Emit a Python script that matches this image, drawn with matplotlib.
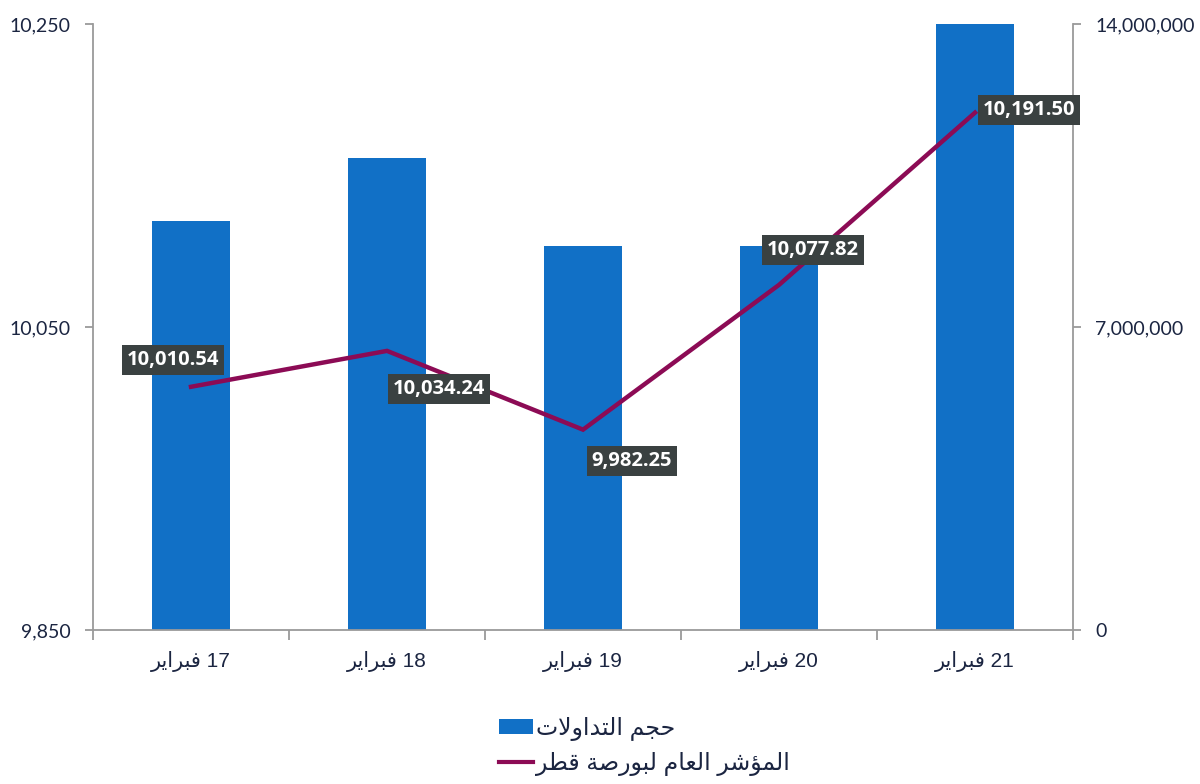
import matplotlib
matplotlib.use("Agg")
import matplotlib.pyplot as plt
from matplotlib.patches import Patch
from matplotlib.lines import Line2D
from matplotlib.ticker import FuncFormatter, FixedLocator

# ---------------- data ----------------
categories = ["17 فبراير", "18 فبراير", "19 فبراير", "20 فبراير", "21 فبراير"]
volume = [9450000, 10900000, 8870000, 8870000, 14000000]
index_values = [10010.54, 10034.24, 9982.25, 10077.82, 10191.50]
value_labels = ["10,010.54", "10,034.24", "9,982.25", "10,077.82", "10,191.50"]
legend_labels = ["حجم التداولات", "المؤشر العام لبورصة قطر"]
left_ticks = [9850, 10050, 10250]
right_ticks = [0, 7000000, 14000000]

# ---------------- minimal Arabic shaping ----------------
FORMS = {
    '\u0627': ('\uFE8D', '\uFE8E', None, None),
    '\u0628': ('\uFE8F', '\uFE90', '\uFE91', '\uFE92'),
    '\u0629': ('\uFE93', '\uFE94', None, None),
    '\u062A': ('\uFE95', '\uFE96', '\uFE97', '\uFE98'),
    '\u062C': ('\uFE9D', '\uFE9E', '\uFE9F', '\uFEA0'),
    '\u062D': ('\uFEA1', '\uFEA2', '\uFEA3', '\uFEA4'),
    '\u062F': ('\uFEA9', '\uFEAA', None, None),
    '\u0631': ('\uFEAD', '\uFEAE', None, None),
    '\u0634': ('\uFEB5', '\uFEB6', '\uFEB7', '\uFEB8'),
    '\u0635': ('\uFEB9', '\uFEBA', '\uFEBB', '\uFEBC'),
    '\u0637': ('\uFEC1', '\uFEC2', '\uFEC3', '\uFEC4'),
    '\u0639': ('\uFEC9', '\uFECA', '\uFECB', '\uFECC'),
    '\u0641': ('\uFED1', '\uFED2', '\uFED3', '\uFED4'),
    '\u0642': ('\uFED5', '\uFED6', '\uFED7', '\uFED8'),
    '\u0644': ('\uFEDD', '\uFEDE', '\uFEDF', '\uFEE0'),
    '\u0645': ('\uFEE1', '\uFEE2', '\uFEE3', '\uFEE4'),
    '\u0648': ('\uFEED', '\uFEEE', None, None),
    '\u064A': ('\uFEF1', '\uFEF2', '\uFEF3', '\uFEF4'),
    '\u0624': ('\uFE85', '\uFE86', None, None),
}


def shape_word(word):
    chars = list(word)
    n = len(chars)
    res = []
    i = 0
    while i < n:
        c = chars[i]
        prev = chars[i - 1] if i > 0 else None
        joins_prev = prev is not None and prev in FORMS and FORMS[prev][2] is not None
        if c == '\u0644' and i + 1 < n and chars[i + 1] == '\u0627':
            res.append('\uFEFC' if joins_prev else '\uFEFB')
            i += 2
            continue
        if c not in FORMS:
            res.append(c)
            i += 1
            continue
        nxt = chars[i + 1] if i + 1 < n else None
        iso, fin, ini, med = FORMS[c]
        joins_next = ini is not None and nxt is not None and nxt in FORMS
        if joins_prev and joins_next:
            g = med
        elif joins_prev:
            g = fin
        elif joins_next:
            g = ini
        else:
            g = iso
        res.append(g)
        i += 1
    return ''.join(reversed(res))


def visual(text):
    toks = text.split(' ')
    out = []
    for t in reversed(toks):
        if any('\u0600' <= ch <= '\u06FF' for ch in t):
            out.append(shape_word(t))
        else:
            out.append(t)
    return ' '.join(out)


# ---------------- styling ----------------
BAR_COLOR = '#1170c6'
LINE_COLOR = '#8c0b55'
BOX_COLOR = '#3a4141'
TICK_COLOR = '#1b2541'
SPINE_COLOR = '#9a9a9a'
AR_FONT = ['Liberation Sans', 'DejaVu Sans']
NUM_FONT = ['Lato', 'DejaVu Sans']

fig = plt.figure(figsize=(12, 7.84), dpi=100)
ax = fig.add_axes([0.0775, 0.1964, 0.8167, 0.773])
ax2 = ax.twinx()

x = list(range(len(categories)))

# bars on the secondary (right) axis, drawn behind the line
ax2.bar(x, volume, width=0.4, color=BAR_COLOR, zorder=1)
ax2.set_ylim(0, 14000000)
ax.set_zorder(ax2.get_zorder() + 1)
ax.patch.set_visible(False)

ax.plot(x, index_values, color=LINE_COLOR, lw=3.2, zorder=3, solid_joinstyle='miter')
ax.set_ylim(9850, 10250)
ax.set_xlim(-0.5, len(categories) - 0.5)

# labels
offsets = [(-18, 27), (52, -38), (49, -31), (34, 35), (54, 3)]
for xi, yi, lab, off in zip(x, index_values, value_labels, offsets):
    ax.annotate(lab, (xi, yi), xytext=off, textcoords='offset pixels',
                ha='center', va='center', color='white', fontsize=14.5,
                fontweight='bold', family=['Open Sans', 'DejaVu Sans'],
                bbox=dict(boxstyle='square,pad=0.25', fc=BOX_COLOR, ec='none'),
                zorder=5)

# axes styling
fmt = FuncFormatter(lambda v, p: f"{v:,.0f}")
ax.yaxis.set_major_locator(FixedLocator(left_ticks))
ax.yaxis.set_major_formatter(fmt)
ax2.yaxis.set_major_locator(FixedLocator(right_ticks))
ax2.yaxis.set_major_formatter(fmt)

for a in (ax, ax2):
    a.spines['top'].set_visible(False)
    for s in ('left', 'right', 'bottom'):
        a.spines[s].set_color(SPINE_COLOR)
        a.spines[s].set_linewidth(1.3)

ax.spines['right'].set_visible(False)
ax2.spines['left'].set_visible(False)
ax2.spines['bottom'].set_visible(False)

ax.tick_params(axis='y', direction='out', length=6, width=1.3, color=SPINE_COLOR,
               labelsize=14, labelcolor=TICK_COLOR, pad=10)
ax2.tick_params(axis='y', direction='out', length=6, width=1.3, color=SPINE_COLOR,
                labelsize=14, labelcolor=TICK_COLOR, pad=10)
for lab in ax.get_yticklabels() + ax2.get_yticklabels():
    lab.set_family(NUM_FONT)

ax.set_xticks(x)
ax.set_xticklabels([visual(c) for c in categories], family=AR_FONT, fontsize=15,
                   color=TICK_COLOR)
ax.set_xticks([i - 0.5 for i in range(len(categories) + 1)], minor=True)
ax.tick_params(axis='x', which='major', length=0, pad=15)
ax.tick_params(axis='x', which='minor', direction='out', length=7, width=1.3,
               color=SPINE_COLOR)

# legend
handles = [Patch(facecolor=BAR_COLOR, edgecolor='none'),
           Line2D([0], [0], color=LINE_COLOR, lw=3)]
leg = fig.legend(handles, [visual(l) for l in legend_labels], loc='center',
                 bbox_to_anchor=(0.537, 0.048), frameon=False,
                 prop={'family': AR_FONT, 'size': 17}, handlelength=1.45,
                 handleheight=0.6, handletextpad=0.1, labelspacing=0.45)
for t in leg.get_texts():
    t.set_color(TICK_COLOR)

fig.savefig('out.png', dpi=100)
